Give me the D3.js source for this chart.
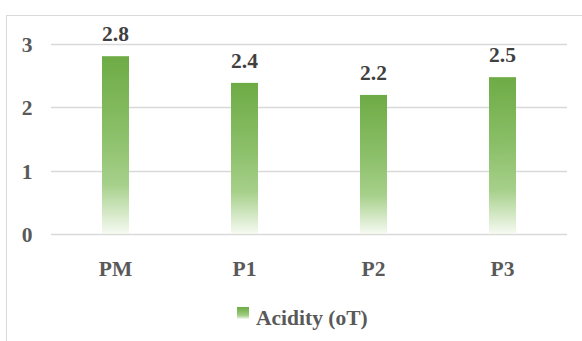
<!DOCTYPE html>
<html><head><meta charset="utf-8">
<script src="https://cdn.jsdelivr.net/npm/d3@7"></script>
<style>body{margin:0;background:#fff}svg{display:block}</style>
</head><body>
<script>
const categories = ["PM", "P1", "P2", "P3"];
const values = [2.8, 2.38, 2.19, 2.47];
const labels = ["2.8", "2.4", "2.2", "2.5"];
const yTicks = [0, 1, 2, 3];
const seriesName = "Acidity (oT)";

const W = 582, H = 341;
const FONT = '"Liberation Serif"';
const FS = "21.5px";
const svg = d3.select("body").append("svg").attr("width", W).attr("height", H);

function styleText(sel, color) {
  sel.style("font-family", FONT).style("font-weight", "bold").style("font-size", FS).attr("fill", color);
}

const defs = svg.append("defs");
const grad = defs.append("linearGradient").attr("id", "g").attr("x1", 0).attr("y1", 0).attr("x2", 0).attr("y2", 1);
grad.append("stop").attr("offset", "0%").attr("stop-color", "#6eab45");
grad.append("stop").attr("offset", "45%").attr("stop-color", "#8cc06a");
grad.append("stop").attr("offset", "72%").attr("stop-color", "#a6d08a");
grad.append("stop").attr("offset", "100%").attr("stop-color", "#f6faf2");

// border
svg.append("rect").attr("x", 6.5).attr("y", 15.5).attr("width", 590).attr("height", 340)
  .attr("fill", "none").attr("stroke", "#d9d9d9").attr("stroke-width", 1);

const x = d3.scaleBand().domain(categories).range([51, 567]).paddingInner(0).paddingOuter(0);
const y = d3.scaleLinear().domain([0, 3]).range([234, 43.5]);

// gridlines
svg.append("g").selectAll("line").data(yTicks).join("line")
  .attr("x1", 51).attr("x2", 567)
  .attr("y1", d => Math.round(y(d)) + 0.5).attr("y2", d => Math.round(y(d)) + 0.5)
  .attr("stroke", "#d9d9d9").attr("stroke-width", 1.5);

// y axis labels
const yAxis = d3.axisLeft(y).tickValues(yTicks).tickSize(0).tickPadding(0).tickFormat(d3.format("d"));
const yg = svg.append("g").attr("transform", "translate(33,0)").call(yAxis);
yg.select(".domain").remove();
styleText(yg.selectAll("text").attr("text-anchor", "middle").attr("x", -6).attr("dy", "0.36em"), "#595959");

// bars
const bw = 27;
svg.append("g").selectAll("rect").data(values).join("rect")
  .attr("x", (d, i) => x(categories[i]) + x.bandwidth() / 2 - bw / 2)
  .attr("width", bw)
  .attr("y", d => y(d))
  .attr("height", d => y(0) - y(d))
  .attr("fill", "url(#g)");

// data labels
styleText(svg.append("g").selectAll("text").data(values).join("text")
  .attr("x", (d, i) => x(categories[i]) + x.bandwidth() / 2)
  .attr("y", d => y(d) - 15)
  .attr("text-anchor", "middle")
  .text((d, i) => labels[i]), "#404040");

// x axis labels
const xAxis = d3.axisBottom(x).tickSize(0).tickPadding(0);
const xg = svg.append("g").attr("transform", "translate(0,234)").call(xAxis);
xg.select(".domain").remove();
styleText(xg.selectAll("text").attr("dy", 0).attr("y", 42), "#595959");

// legend
const lg = svg.append("g");
lg.append("rect").attr("x", 237).attr("y", 307).attr("width", 12).attr("height", 12).attr("fill", "url(#g)");
styleText(lg.append("text").attr("x", 256).attr("y", 325).text(seriesName), "#595959");
</script>
</body></html>
